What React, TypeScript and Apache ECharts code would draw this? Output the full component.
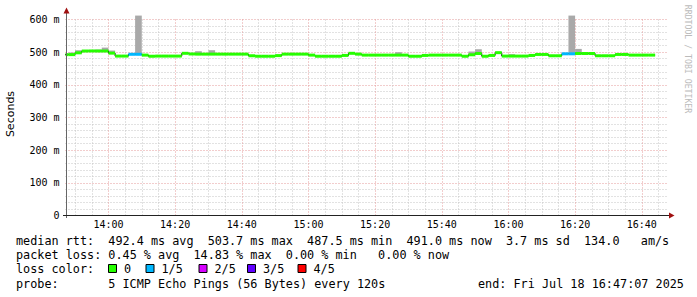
import React, { useEffect, useRef } from "react";
import * as echarts from "echarts";

// ---- time frame (minutes since midnight) ----
const START_MIN = 13 * 60 + 47 + 7 / 60; // 13:47:07
const SPAN_MIN = 180.9;
const FIRST_STEP_MIN = 13 * 60 + 46; // first rrd step start 13:46
const STEP_MIN = 2; // 120 s

// ---- data: one value per 2-minute step ----
const medianMs = [
  492.5, 492.5, 498, 503.5, 503.7, 503.5, 503.5, 497, 488, 488,
  493.5, 493.5, 491, 487.5, 488, 488, 488, 488, 496.5, 494.5,
  494, 494, 494, 494, 494, 494, 494, 494, 489, 487.5,
  487.5, 487.5, 489.5, 494, 494, 494, 494, 491, 487.5, 487.5,
  487.5, 487.5, 490, 496.5, 494, 491, 491, 491, 491, 491,
  491, 491, 487.5, 487.5, 490, 491, 491, 491, 491, 491,
  487.5, 492, 496, 487.5, 490, 498.5, 488, 488, 488, 488,
  490, 493, 493, 489, 489, 495, 495, 496, 496, 496,
  489, 489, 489, 493, 493, 491, 491, 491, 491,
];
const lossIndex = [
  0, 0, 0, 0, 0, 0, 0, 0, 0, 0,
  1, 1, 0, 0, 0, 0, 0, 0, 0, 0,
  0, 0, 0, 0, 0, 0, 0, 0, 0, 0,
  0, 0, 0, 0, 0, 0, 0, 0, 0, 0,
  0, 0, 0, 0, 0, 0, 0, 0, 0, 0,
  0, 0, 0, 0, 0, 0, 0, 0, 0, 0,
  0, 0, 0, 0, 0, 0, 0, 0, 0, 0,
  0, 0, 0, 0, 0, 1, 1, 0, 0, 0,
  0, 0, 0, 0, 0, 0, 0, 0, 0,
];
const smokeTopMs: (number | null)[] = [
  null, 499, 506, 506, null, 508, 514, 505, null, null,
  null, 612, null, null, null, null, null, null, null, null,
  503, null, 506, null, null, null, null, null, null, null,
  null, null, null, null, null, null, null, null, null, null,
  null, null, null, null, null, null, null, null, null, null,
  500, null, null, null, null, null, null, null, null, null,
  null, 502, 509, null, null, null, null, 494, null, null,
  null, null, null, null, null, null, 612, 510, 500, null,
  null, null, null, null, null, null, null, null, null,
];

const lossColors = ["#26ff00", "#00b8ff", "#d600ff", "#6000ff", "#ff0000"];
const lossLabels = ["0", "1/5", "2/5", "3/5", "4/5"];

const xTickLabels = ["14:00", "14:20", "14:40", "15:00", "15:20", "15:40", "16:00", "16:20", "16:40"];
const yTickValues = [0, 100, 200, 300, 400, 500, 600];
const yTickLabels = ["0", "100 m", "200 m", "300 m", "400 m", "500 m", "600 m"];

const statLines = [
  "median rtt:  492.4 ms avg  503.7 ms max  487.5 ms min  491.0 ms now  3.7 ms sd  134.0   am/s",
  "packet loss: 0.45 % avg  14.83 % max  0.00 % min   0.00 % now",
];
const lossColorTitle = "loss color:";
const probeLine = "probe:       5 ICMP Echo Pings (56 Bytes) every 120s";
const endLine = "end: Fri Jul 18 16:47:07 2025";
const yAxisName = "Seconds";
const watermark = "RRDTOOL / TOBI OETIKER";

const MONO = "DejaVu Sans Mono";
const CW = 7.1; // legend char width
const LEG_X = 16;
const MAJOR_GRID = "#e49a9a";
const MINOR_GRID = "#c4c4c4";

function toMin(s: string) {
  const [h, m] = s.split(":").map(Number);
  return h * 60 + m;
}

function tokenTexts(line: string, x0: number, y: number) {
  const out: any[] = [];
  const re = /\S+(?: \S+)*/g;
  let m: RegExpExecArray | null;
  while ((m = re.exec(line))) {
    out.push({
      type: "text",
      x: x0 + m.index * CW,
      y,
      z: 100,
      style: {
        text: m[0],
        fontFamily: MONO,
        fontSize: 11.8,
        fill: "#000",
        align: "left",
        verticalAlign: "middle",
      },
    });
  }
  return out;
}

export default function App() {
  const ref = useRef<HTMLDivElement>(null);
  useEffect(() => {
    const chart = echarts.init(ref.current!, null, { renderer: "svg" });
    const xTickMinutes = xTickLabels.map(toMin);

    const stepStart = (k: number) => FIRST_STEP_MIN + STEP_MIN * k;

    const lineData = medianMs.map((v, k) => [stepStart(k), v]);
    lineData.push([stepStart(medianMs.length), medianMs[medianMs.length - 1]]);

    const smokeData: number[][] = [];
    smokeTopMs.forEach((top, k) => {
      if (top != null) smokeData.push([stepStart(k), top, medianMs[k]]);
    });
    const medData = medianMs.map((v, k) => [stepStart(k), v, lossIndex[k]]);

    // vertical grid lines every 5 minutes, major every 20
    const vLines: any[] = [];
    for (let m = Math.ceil(START_MIN / 5) * 5; m < START_MIN + SPAN_MIN - 2; m += 5) {
      const major = m % 20 === 0;
      vLines.push({
        xAxis: m,
        lineStyle: { color: major ? MAJOR_GRID : MINOR_GRID, type: [1, 2], width: 1 },
      });
    }

    // clip horizontally to the plot, allow smoke to rise above the top grid line
    const clipTo = (r: any, cs: any) =>
      echarts.graphic.clipRectByRect(r, { x: cs.x, y: cs.y - 30, width: cs.width, height: cs.height + 30 });

    const graphic: any[] = [
      // axes
      { type: "line", z: 100, shape: { x1: 66.5, y1: 218, x2: 66.5, y2: 12 }, style: { stroke: "#666", lineWidth: 1 } },
      { type: "polygon", z: 101, shape: { points: [[63.5, 13.5], [69.5, 13.5], [66.5, 7.5]] }, style: { fill: "#a01010" } },
      { type: "line", z: 100, shape: { x1: 63, y1: 215.5, x2: 670, y2: 215.5 }, style: { stroke: "#222", lineWidth: 1 } },
      { type: "polygon", z: 101, shape: { points: [[669, 212.5], [669, 218.5], [674.5, 215.5]] }, style: { fill: "#a01010" } },
      {
        type: "text", x: 10.5, y: 114, rotation: Math.PI / 2, z: 100,
        style: { text: yAxisName, fontFamily: "DejaVu Sans", fontSize: 11, fill: "#000", align: "center", verticalAlign: "middle" },
      },
      {
        type: "text", x: 688, y: 59, rotation: -Math.PI / 2, z: 100,
        style: { text: watermark, fontFamily: MONO, fontSize: 8.2, fill: "#bbbbbb", align: "center", verticalAlign: "middle" },
      },
      ...tokenTexts(statLines[0], LEG_X, 241),
      ...tokenTexts(statLines[1], LEG_X, 255.3),
      ...tokenTexts(lossColorTitle, LEG_X, 269.3),
      ...tokenTexts(probeLine, LEG_X, 283.6),
      ...tokenTexts(endLine, 478, 283.6),
    ];
    const boxX = [108.5, 146, 199, 247.5, 298];
    lossLabels.forEach((lab, i) => {
      graphic.push({
        type: "rect", z: 100,
        shape: { x: boxX[i], y: 264.5, width: 8, height: 8 },
        style: { fill: lossColors[i], stroke: "#000", lineWidth: 1 },
      });
      graphic.push({
        type: "text", x: boxX[i] + 15.5, y: 269.3, z: 100,
        style: { text: lab, fontFamily: MONO, fontSize: 11.8, fill: "#000", align: "left", verticalAlign: "middle" },
      });
    });

    chart.setOption({
      animation: false,
      backgroundColor: "#ffffff",
      grid: { left: 65.5, top: 19.5, width: 603, height: 196, containLabel: false, outerBoundsMode: "none" },
      xAxis: {
        type: "value",
        min: START_MIN,
        max: START_MIN + SPAN_MIN,
        axisLine: { show: false },
        axisTick: { show: false },
        splitLine: { show: false },
        axisLabel: {
          customValues: xTickMinutes,
          formatter: (v: number) => {
            const i = xTickMinutes.indexOf(Math.round(v));
            return i >= 0 ? xTickLabels[i] : "";
          },
          fontFamily: MONO,
          fontSize: 10,
          color: "#000",
          margin: 4,
        },
      },
      yAxis: {
        type: "value",
        min: 0,
        max: 600,
        interval: 100,
        axisLine: { show: false },
        axisTick: { show: false },
        axisLabel: {
          formatter: (v: number) => {
            const i = yTickValues.indexOf(Math.round(v));
            return i >= 0 ? yTickLabels[i] : "";
          },
          fontFamily: MONO,
          fontSize: 10,
          color: "#000",
          margin: 6,
        },
        splitLine: { show: true, lineStyle: { color: MAJOR_GRID, type: [1, 2], width: 1 } },
        minorTick: { show: false, splitNumber: 5 },
        minorSplitLine: { show: true, lineStyle: { color: MINOR_GRID, type: [1, 2], width: 1 } },
      },
      series: [
        {
          type: "custom",
          name: "smoke",
          z: 2,
          clip: false,
          data: smokeData,
          encode: { x: 0, y: 1 },
          renderItem: (params: any, api: any) => {
            const t0 = api.value(0);
            const p0 = api.coord([t0, api.value(1)]);
            const p1 = api.coord([t0 + STEP_MIN, api.value(2)]);
            const r = clipTo({ x: p0[0], y: p0[1], width: p1[0] - p0[0], height: p1[1] - p0[1] }, params.coordSys);
            return r ? { type: "rect", shape: r, style: { fill: "#a9a9a9" } } : null;
          },
        },
        {
          type: "line",
          name: "median",
          z: 3,
          step: "end",
          symbol: "none",
          data: lineData,
          lineStyle: { color: "#000", width: 1 },
          markLine: {
            silent: true,
            z: 1,
            symbol: "none",
            label: { show: false },
            animation: false,
            data: vLines,
          },
        },
        {
          type: "custom",
          name: "loss",
          z: 4,
          data: medData,
          encode: { x: 0, y: 1 },
          renderItem: (params: any, api: any) => {
            const t0 = api.value(0);
            const p0 = api.coord([t0, api.value(1)]);
            const p1 = api.coord([t0 + STEP_MIN, api.value(1)]);
            const r = clipTo({ x: p0[0], y: p0[1] - 1.5, width: p1[0] - p0[0], height: 3 }, params.coordSys);
            return r ? { type: "rect", shape: r, style: { fill: lossColors[api.value(2)] } } : null;
          },
        },
      ],
      graphic,
    });
    return () => chart.dispose();
  }, []);
  return (
    <div
      ref={ref}
      style={{ position: "absolute", left: 0, top: 0, width: 697, height: 297, background: "#fff" }}
    />
  );
}
